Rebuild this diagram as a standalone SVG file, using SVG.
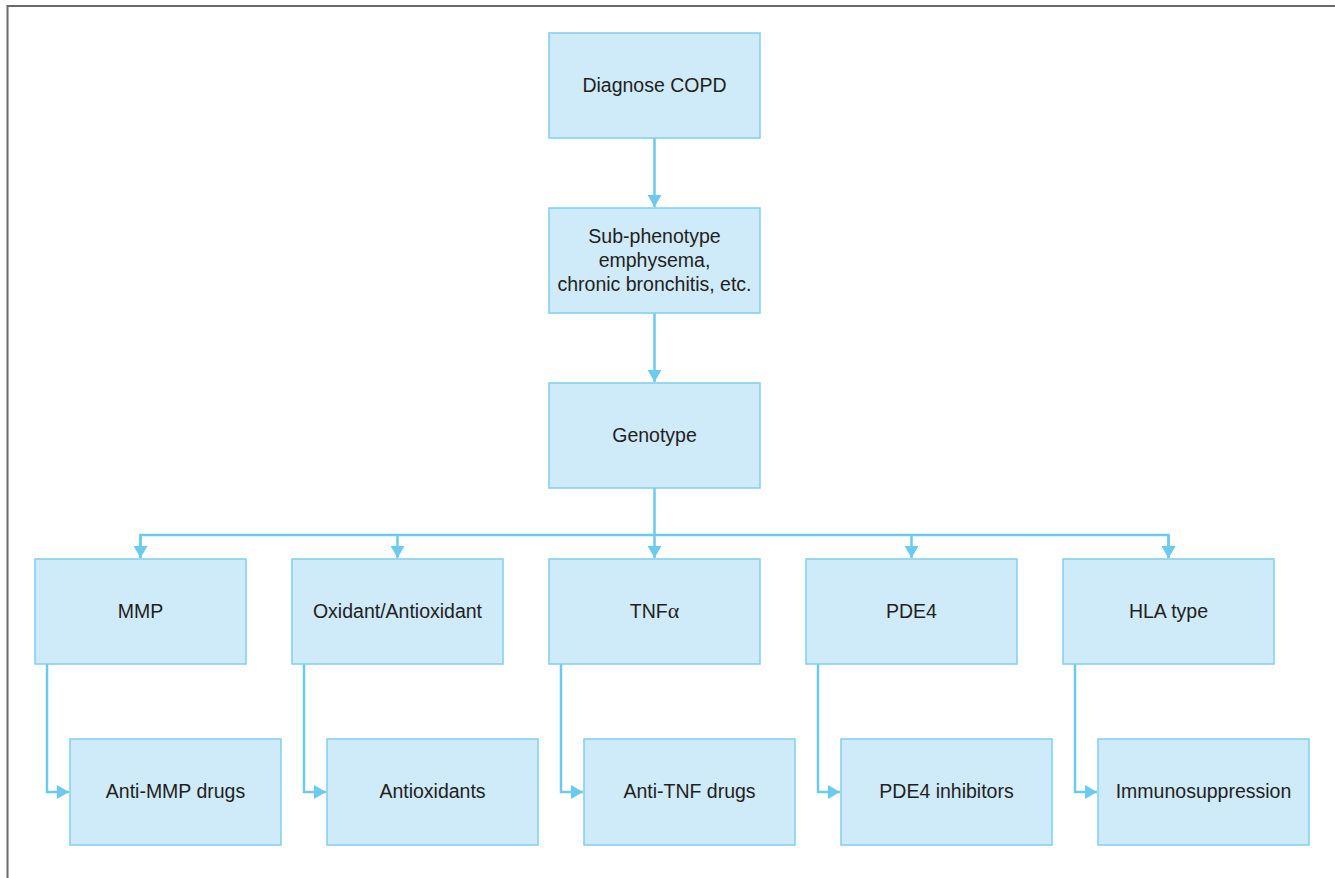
<svg xmlns="http://www.w3.org/2000/svg" width="1335" height="878" viewBox="0 0 1335 878">
<defs>
<marker id="ah" markerUnits="userSpaceOnUse" markerWidth="14" markerHeight="14" viewBox="0 0 12 14" refX="12" refY="7" orient="auto">
<path d="M0,0 L12,7 L0,14 Z" fill="#6ccaf0"/>
</marker>
</defs>
<style>
.box{fill:#cfeaf9;stroke:#7fd0f0;stroke-width:1.5}
.lbl{font-family:"Liberation Sans",Arial,sans-serif;font-size:19.5px;fill:#231f20;text-anchor:middle}
.con{fill:none;stroke:#6ccaf0;stroke-width:2.5}
</style>
<rect width="1335" height="878" fill="#ffffff"/>
<path d="M7.5,878 V6 H1335" fill="none" stroke="#6a6a6a" stroke-width="2"/>
<g id="connectors">
<path class="con" d="M654.5,138 V207" marker-end="url(#ah)"/>
<path class="con" d="M654.5,313 V382" marker-end="url(#ah)"/>
<path class="con" d="M654.5,488 V558" marker-end="url(#ah)"/>
<path class="con" d="M140.5,558 V535 H1168.5 V558" marker-end="url(#ah)"/>
<path class="con" d="M397.5,535 V558" marker-end="url(#ah)"/>
<path class="con" d="M911.5,535 V558" marker-end="url(#ah)"/>
<path class="con" d="M1168.5,535 V558" marker-end="url(#ah)"/>
<path class="con" d="M140.5,535 V558" marker-end="url(#ah)"/>
<path class="con" d="M47,664 V792 H69" marker-end="url(#ah)"/>
<path class="con" d="M304,664 V792 H326" marker-end="url(#ah)"/>
<path class="con" d="M561,664 V792 H583" marker-end="url(#ah)"/>
<path class="con" d="M818,664 V792 H840" marker-end="url(#ah)"/>
<path class="con" d="M1075,664 V792 H1097" marker-end="url(#ah)"/>
</g>
<g id="diagnose"><rect class="box" x="549" y="33" width="211" height="105"/><text class="lbl" x="654.5" y="92">Diagnose COPD</text></g>
<g id="subphenotype"><rect class="box" x="549" y="208" width="211" height="105"/><text class="lbl" x="654.5" y="243">Sub-phenotype</text><text class="lbl" x="654.5" y="267">emphysema,</text><text class="lbl" x="654.5" y="291">chronic bronchitis, etc.</text></g>
<g id="genotype"><rect class="box" x="549" y="383" width="211" height="105"/><text class="lbl" x="654.5" y="442">Genotype</text></g>
<g id="mmp"><rect class="box" x="35" y="559" width="211" height="105"/><text class="lbl" x="140.5" y="618">MMP</text></g>
<g id="oxidant"><rect class="box" x="292" y="559" width="211" height="105"/><text class="lbl" x="397.5" y="618">Oxidant/Antioxidant</text></g>
<g id="tnf"><rect class="box" x="549" y="559" width="211" height="105"/><text class="lbl" x="654.5" y="618">TNF<tspan font-family="'Liberation Serif',serif" font-size="22">α</tspan></text></g>
<g id="pde4"><rect class="box" x="806" y="559" width="211" height="105"/><text class="lbl" x="911.5" y="618">PDE4</text></g>
<g id="hla"><rect class="box" x="1063" y="559" width="211" height="105"/><text class="lbl" x="1168.5" y="618">HLA type</text></g>
<g id="antimmp"><rect class="box" x="70" y="739" width="211" height="106"/><text class="lbl" x="175.5" y="798">Anti-MMP drugs</text></g>
<g id="antioxidants"><rect class="box" x="327" y="739" width="211" height="106"/><text class="lbl" x="432.5" y="798">Antioxidants</text></g>
<g id="antitnf"><rect class="box" x="584" y="739" width="211" height="106"/><text class="lbl" x="689.5" y="798">Anti-TNF drugs</text></g>
<g id="pde4inh"><rect class="box" x="841" y="739" width="211" height="106"/><text class="lbl" x="946.5" y="798">PDE4 inhibitors</text></g>
<g id="immuno"><rect class="box" x="1098" y="739" width="211" height="106"/><text class="lbl" x="1203.5" y="798">Immunosuppression</text></g>
</svg>
